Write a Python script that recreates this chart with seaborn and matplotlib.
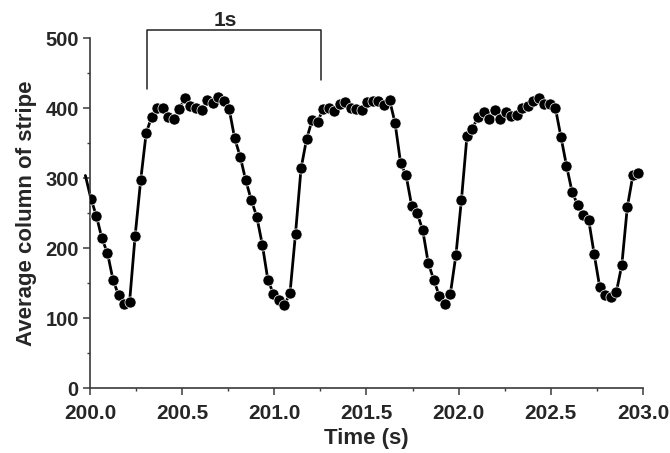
import numpy as np
import pandas as pd
import matplotlib
matplotlib.use("Agg")
import matplotlib.pyplot as plt
import seaborn as sns
from matplotlib.ticker import MultipleLocator, AutoMinorLocator, FormatStrFormatter

# --- data: average column of the stripe, one frame every 0.03 s
# (the first frame sits just left of 200 s, only its line segment shows)
t_start = 199.975
frame_dt = 0.03
stripe_col = [304,
              271, 246, 214, 193, 155, 133, 121, 124, 218, 297,
              365, 388, 401, 401, 388, 384, 399, 415, 403, 400,
              397, 412, 407, 416, 411, 399, 357, 331, 297, 269,
              245, 205, 155, 135, 126,
              119, 136, 221, 314, 356, 383, 381, 399, 401, 396,
              406, 409, 400, 399, 398, 409, 410, 410, 405, 412,
              379, 322, 304, 261, 250, 226, 179, 155, 132, 121,
              135, 190, 269,
              360, 371, 388, 395, 384, 397, 384, 395, 389, 390,
              400, 403, 411, 414, 406, 406, 400, 359, 318, 281,
              262, 247, 241, 192, 145, 134, 130, 137, 176, 259,
              304, 307]

time_s = t_start + frame_dt * np.arange(len(stripe_col))
df = pd.DataFrame({"Time": time_s, "Column": stripe_col})

# 1 s bracket annotation
bracket_t = [200.311, 201.252]
bracket_top = 512
bracket_feet = [427, 441]

sns.set_style("ticks")
plt.rcParams['font.family'] = ['Liberation Sans', 'DejaVu Sans']
plt.rcParams['font.weight'] = 'bold'

fig = plt.figure(figsize=(6.7, 4.53), dpi=100)
ax = fig.add_axes([0.1343, 0.1428, 0.8254, 0.7727])

# line over all frames, markers only for the frames inside the axis
sns.lineplot(data=df, x="Time", y="Column", color="black", linewidth=2,
             clip_on=False, ax=ax)
sns.scatterplot(data=df[df["Time"] >= 200], x="Time", y="Column",
                color="black", s=64, edgecolor="white", linewidth=0.5,
                zorder=3, ax=ax)

ax.set_xlim(200, 203)
ax.set_ylim(0, 500)
ax.xaxis.set_major_locator(MultipleLocator(0.5))
ax.xaxis.set_minor_locator(AutoMinorLocator(2))
ax.xaxis.set_major_formatter(FormatStrFormatter('%.1f'))
ax.yaxis.set_major_locator(MultipleLocator(100))
ax.yaxis.set_minor_locator(AutoMinorLocator(2))

for side in ['top', 'right']:
    ax.spines[side].set_visible(False)
for side in ['left', 'bottom']:
    ax.spines[side].set_color('#3a3a3a')
    ax.spines[side].set_linewidth(1.2)

ax.tick_params(which='major', direction='out', length=5, width=1.1,
               color='#3a3a3a', labelsize=15)
ax.tick_params(which='minor', direction='out', length=2.5, width=1.0,
               color='#3a3a3a')
ax.tick_params(axis='x', which='major', pad=6)
ax.tick_params(axis='y', which='major', pad=3, labelsize=14.5)
for lab in ax.get_xticklabels() + ax.get_yticklabels():
    lab.set_fontweight('bold')

ax.set_xlabel("Time (s)", fontsize=16, fontweight='bold', labelpad=4)
ax.set_ylabel("Average column of stripe", fontsize=16, fontweight='bold', labelpad=6)

# bracket marking one second
ax.plot([bracket_t[0], bracket_t[0], bracket_t[1], bracket_t[1]],
        [bracket_feet[0], bracket_top, bracket_top, bracket_feet[1]],
        color='#222222', linewidth=1.1, clip_on=False)
ax.text(200.735, 518, "1s", ha='center', va='baseline', fontsize=15,
        fontweight='bold', clip_on=False)

fig.savefig("out.png", dpi=100)
